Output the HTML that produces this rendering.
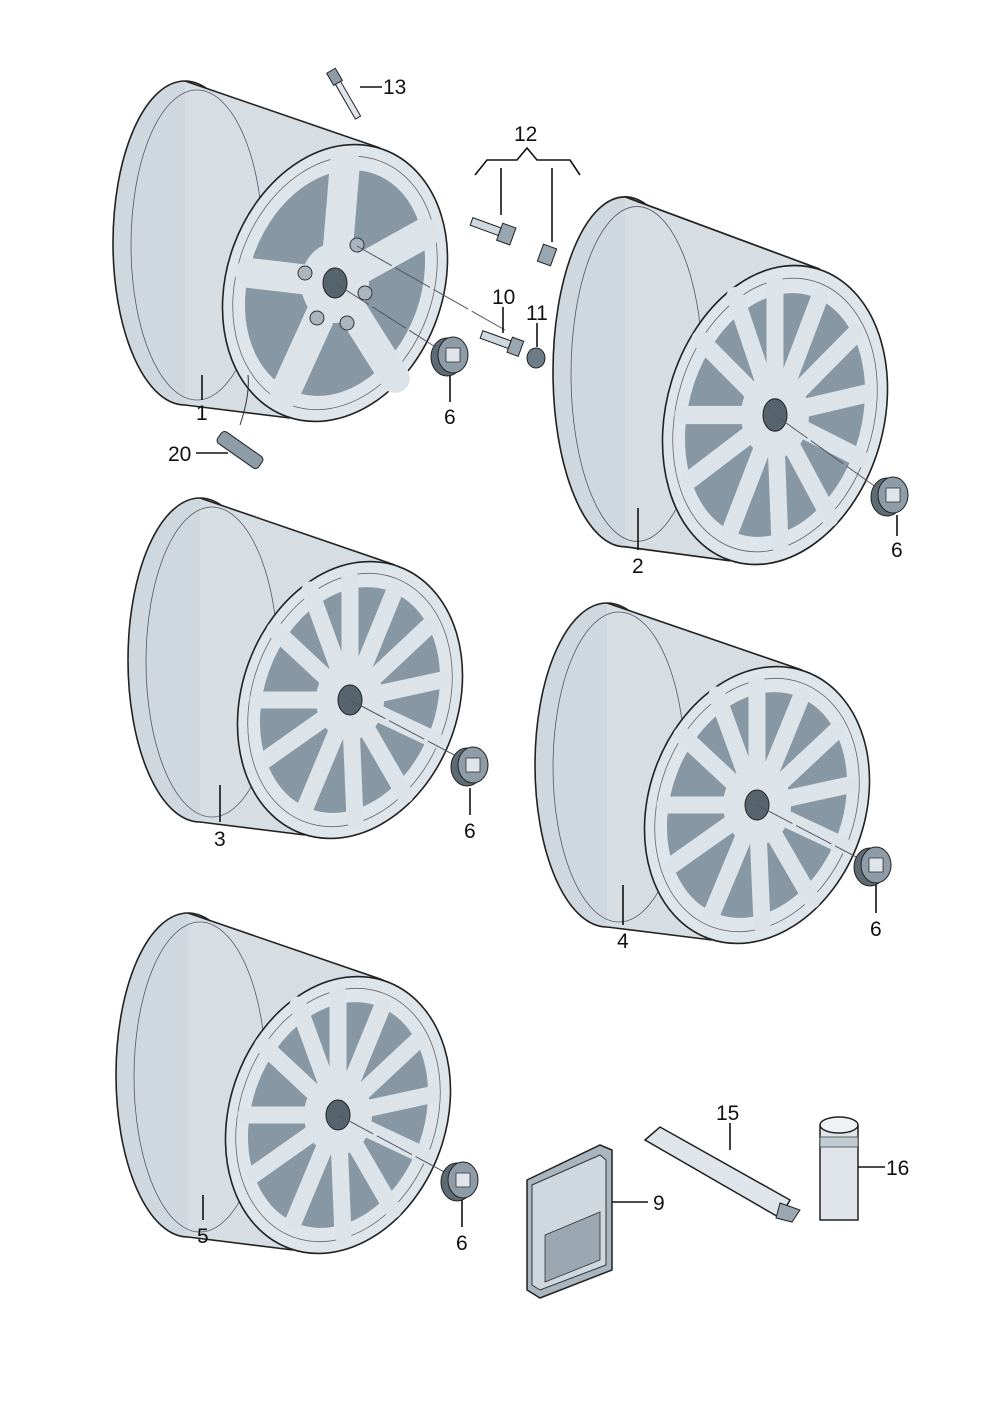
<!DOCTYPE html>
<html><head><meta charset="utf-8"><style>
html,body{margin:0;padding:0;background:#fff}
svg{display:block}
text{font-family:"Liberation Sans",sans-serif;font-size:21px;fill:#111}
</style></head><body>
<svg width="992" height="1403" viewBox="0 0 992 1403" xmlns="http://www.w3.org/2000/svg">
<defs>
<g id="barrel">
  <ellipse cx="-150" cy="-40" rx="72" ry="162" fill="#cfd8df" stroke="#222" stroke-width="1.6"/>
  <polygon points="-150,-202 45,-135 -45,135 -150,122" fill="#d6dee4"/>
  <path d="M-150,-202 L45,-135 M-150,122 L-45,135" stroke="#222" stroke-width="1.6" fill="none"/>
  <ellipse cx="-138" cy="-38" rx="66" ry="155" fill="none" stroke="#556" stroke-width="0.8"/>
  <g transform="rotate(20)">
    <ellipse cx="0" cy="0" rx="108" ry="142" fill="#dfe6eb" stroke="#222" stroke-width="1.6"/>
    <ellipse cx="0" cy="0" rx="98" ry="130" fill="none" stroke="#666" stroke-width="0.8"/>
    <ellipse cx="0" cy="0" rx="86" ry="116" fill="#8797a3"/>
  </g>
</g>
<g id="spk5" stroke="#dde4e9" stroke-width="30" stroke-linecap="round">
  <line x1="0" y1="0" x2="10" y2="-120"/><line x1="0" y1="0" x2="90" y2="-50"/>
  <line x1="0" y1="0" x2="60" y2="95"/><line x1="0" y1="0" x2="-50" y2="110"/>
  <line x1="0" y1="0" x2="-85" y2="-10"/>
</g>
<g id="spk10" stroke="#dde4e9" stroke-width="17" stroke-linecap="round">
  <line x1="0" y1="0" x2="0" y2="-122"/><line x1="0" y1="0" x2="45" y2="-110"/>
  <line x1="0" y1="0" x2="80" y2="-75"/><line x1="0" y1="0" x2="92" y2="-20"/>
  <line x1="0" y1="0" x2="85" y2="40"/><line x1="0" y1="0" x2="55" y2="95"/>
  <line x1="0" y1="0" x2="5" y2="120"/><line x1="0" y1="0" x2="-45" y2="108"/>
  <line x1="0" y1="0" x2="-85" y2="60"/><line x1="0" y1="0" x2="-92" y2="0"/>
  <line x1="0" y1="0" x2="-75" y2="-70"/><line x1="0" y1="0" x2="-40" y2="-110"/>
</g>
<g id="hub">
  <ellipse cx="0" cy="0" rx="34" ry="40" fill="#dde4e9"/>
  <ellipse cx="0" cy="0" rx="12" ry="15" fill="#56646e" stroke="#222"/>
</g>
<g id="cap">
  <ellipse cx="-3" cy="2" rx="16" ry="19" fill="#5d6b75" stroke="#222"/>
  <ellipse cx="3" cy="0" rx="15" ry="18" fill="#8d9ca7" stroke="#222"/>
  <rect x="-4" y="-7" width="14" height="14" fill="#dfe5ea" stroke="#333" stroke-width="0.8"/>
</g>
</defs>

<g transform="translate(335,283)"><use href="#barrel"/><use href="#spk5"/><use href="#hub"/>
<circle cx="22" cy="-38" r="7" fill="#aab6bf" stroke="#333"/><circle cx="-30" cy="-10" r="7" fill="#aab6bf" stroke="#333"/><circle cx="30" cy="10" r="7" fill="#aab6bf" stroke="#333"/><circle cx="-18" cy="35" r="7" fill="#aab6bf" stroke="#333"/><circle cx="12" cy="40" r="7" fill="#aab6bf" stroke="#333"/></g>
<g transform="translate(775,415) scale(1,1.08)"><use href="#barrel"/><use href="#spk10"/><use href="#hub"/></g>
<g transform="translate(350,700)"><use href="#barrel"/><use href="#spk10"/><use href="#hub"/></g>
<g transform="translate(757,805)"><use href="#barrel"/><use href="#spk10"/><use href="#hub"/></g>
<g transform="translate(338,1115)"><use href="#barrel"/><use href="#spk10"/><use href="#hub"/></g>

<g stroke="#556" stroke-width="1" stroke-dasharray="40,4" fill="none">
<line x1="335" y1="283" x2="440" y2="350"/><line x1="357" y1="246" x2="505" y2="330"/>
<line x1="775" y1="415" x2="880" y2="490"/><line x1="350" y1="700" x2="460" y2="758"/>
<line x1="757" y1="805" x2="862" y2="860"/><line x1="338" y1="1115" x2="450" y2="1175"/>
</g>
<use href="#cap" transform="translate(450,355)"/><use href="#cap" transform="translate(890,495)"/>
<use href="#cap" transform="translate(470,765)"/><use href="#cap" transform="translate(873,865)"/>
<use href="#cap" transform="translate(460,1180)"/>

<g transform="translate(345,95) rotate(-30)"><rect x="-5" y="-28" width="10" height="14" fill="#8d9ca7" stroke="#222"/><rect x="-3" y="-14" width="6" height="40" fill="#dfe5ea" stroke="#222"/></g>
<g transform="translate(495,230) rotate(20)"><rect x="-25" y="-4" width="30" height="8" fill="#cfd8df" stroke="#222"/><rect x="5" y="-9" width="14" height="18" fill="#9aa7b1" stroke="#222"/></g>
<g transform="translate(547,255) rotate(20)"><rect x="-7" y="-9" width="14" height="18" fill="#9aa7b1" stroke="#222"/></g>
<g transform="translate(505,343) rotate(20)"><rect x="-25" y="-4" width="30" height="8" fill="#cfd8df" stroke="#222"/><rect x="5" y="-8" width="12" height="16" fill="#9aa7b1" stroke="#222"/></g>
<ellipse cx="536" cy="358" rx="9" ry="10" fill="#6d7c87" stroke="#222"/>
<g transform="translate(240,450) rotate(35)"><rect x="-25" y="-7" width="50" height="14" rx="4" fill="#8d9ca7" stroke="#222"/></g>
<path d="M240,425 Q250,395 248,375" stroke="#333" fill="none"/>

<polygon points="527,1180 600,1145 612,1150 612,1270 540,1298 527,1290" fill="#aab6bf" stroke="#222" stroke-width="1.5"/>
<polygon points="532,1185 600,1155 606,1160 606,1265 540,1290 532,1285" fill="#cfd8df" stroke="#333"/>
<polygon points="545,1235 600,1212 600,1260 545,1282" fill="#9aa7b1" stroke="#333" stroke-width="0.8"/>
<polygon points="645,1140 660,1127 790,1200 780,1218" fill="#dfe5ea" stroke="#222" stroke-width="1.5"/>
<polygon points="780,1203 800,1210 792,1222 776,1218" fill="#9aa7b1" stroke="#222"/>
<rect x="820" y="1125" width="38" height="95" fill="#dfe5ea" stroke="#222" stroke-width="1.5"/>
<ellipse cx="839" cy="1125" rx="19" ry="8" fill="#eef2f5" stroke="#222" stroke-width="1.5"/>
<rect x="820" y="1137" width="38" height="10" fill="#c2ccd4" stroke="#444" stroke-width="0.8"/>

<g stroke="#111" stroke-width="1.6" fill="none">
<line x1="360" y1="87" x2="382" y2="87"/>
<polyline points="475,175 487,160 517,160 527,148 537,160 570,160 580,175"/>
<line x1="501" y1="168" x2="501" y2="215"/><line x1="552" y1="168" x2="552" y2="242"/>
<line x1="503" y1="307" x2="503" y2="333"/><line x1="537" y1="323" x2="537" y2="347"/>
<line x1="202" y1="375" x2="202" y2="400"/><line x1="450" y1="376" x2="450" y2="402"/>
<line x1="196" y1="453" x2="228" y2="453"/>
<line x1="638" y1="508" x2="638" y2="550"/><line x1="897" y1="515" x2="897" y2="536"/>
<line x1="220" y1="785" x2="220" y2="822"/><line x1="470" y1="788" x2="470" y2="815"/>
<line x1="623" y1="885" x2="623" y2="925"/><line x1="876" y1="885" x2="876" y2="913"/>
<line x1="203" y1="1195" x2="203" y2="1220"/><line x1="462" y1="1200" x2="462" y2="1227"/>
<line x1="612" y1="1202" x2="648" y2="1202"/><line x1="730" y1="1123" x2="730" y2="1150"/>
<line x1="858" y1="1167" x2="885" y2="1167"/>
</g>
<text x="383" y="94">13</text><text x="514" y="141">12</text>
<text x="492" y="304">10</text><text x="526" y="320">11</text>
<text x="196" y="420">1</text><text x="444" y="424">6</text>
<text x="168" y="461">20</text><text x="632" y="573">2</text>
<text x="891" y="557">6</text><text x="214" y="846">3</text>
<text x="464" y="838">6</text><text x="617" y="948">4</text>
<text x="870" y="936">6</text><text x="197" y="1243">5</text>
<text x="456" y="1250">6</text><text x="653" y="1210">9</text>
<text x="716" y="1120">15</text><text x="886" y="1175">16</text>
</svg>
</body></html>
